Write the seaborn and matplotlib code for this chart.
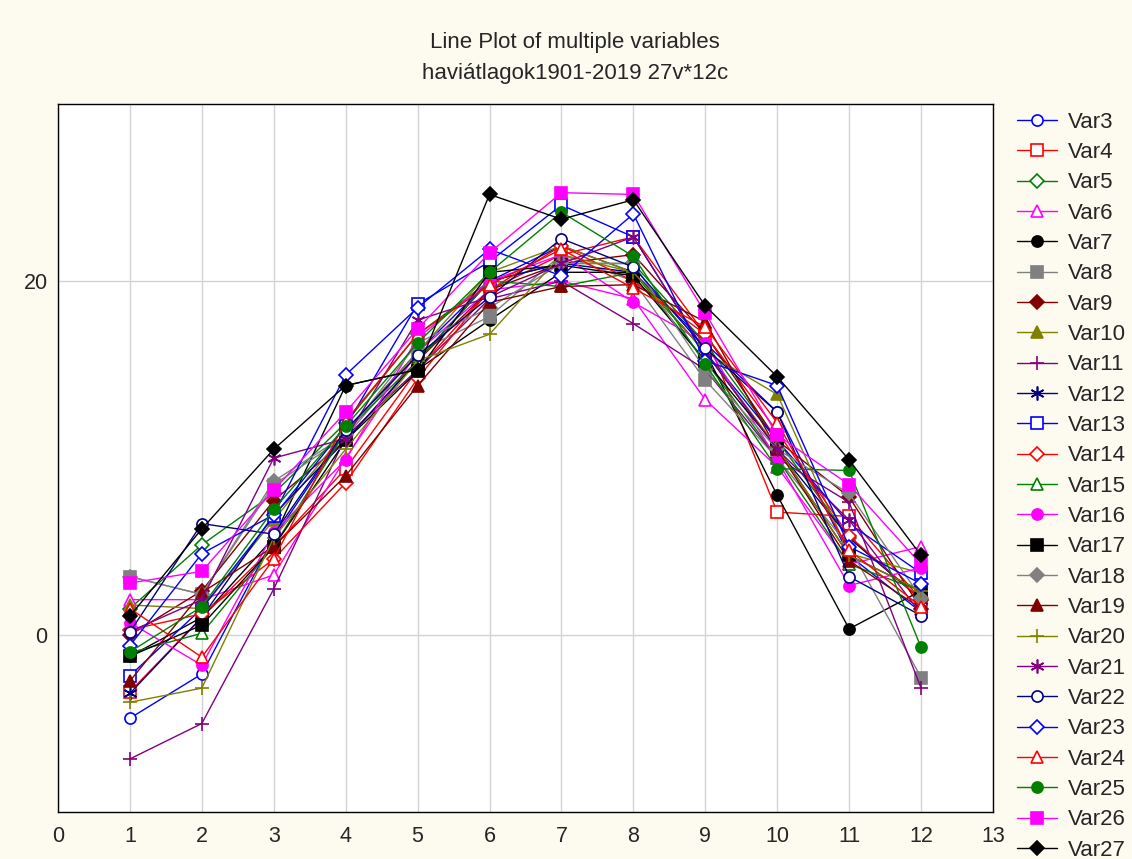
import numpy as np
import pandas as pd
import seaborn as sns
import matplotlib.pyplot as plt

# Monthly means, 12 months, one list per variable
months = list(range(1, 13))
var3 = [-4.7, -2.2, 5.5, 11.5, 16.0, 20.0, 22.0, 20.5, 16.5, 12.6, 4.5, 1.3]
var4 = [-3.2, 1.0, 5.0, 9.4, 15.0, 19.5, 21.5, 22.5, 17.0, 6.95, 6.7, 2.0]
var5 = [1.5, 5.1, 8.0, 12.0, 17.0, 20.0, 21.0, 21.0, 16.5, 11.0, 5.5, 2.0]
var6 = [2.0, 2.0, 3.4, 10.0, 16.0, 19.5, 20.0, 19.0, 13.3, 9.5, 4.0, 5.0]
var7 = [-1.2, 1.0, 5.5, 14.1, 15.0, 17.8, 20.5, 20.5, 16.0, 7.9, 0.35, 2.5]
var8 = [3.3, 2.3, 8.5, 11.2, 16.0, 18.0, 21.5, 20.0, 14.4, 10.0, 5.0, -2.4]
var9 = [0.0, 2.5, 7.6, 11.0, 15.5, 19.5, 21.0, 21.5, 17.0, 11.0, 7.8, 1.5]
var10 = [1.7, 1.5, 6.5, 11.5, 16.0, 20.5, 22.0, 20.5, 16.0, 13.6, 4.6, 3.5]
var11 = [-7.0, -5.0, 2.6, 11.2, 15.0, 19.0, 20.0, 17.6, 15.0, 10.0, 7.5, -3.0]
var12 = [-3.3, 1.0, 6.8, 11.0, 15.5, 20.0, 21.0, 20.5, 16.0, 10.5, 5.5, 2.0]
var13 = [-2.3, 1.5, 6.7, 11.8, 18.7, 21.1, 24.3, 22.5, 16.0, 11.0, 6.3, 3.5]
var14 = [0.3, 1.2, 4.3, 8.6, 14.5, 19.5, 22.0, 20.0, 17.0, 11.5, 5.6, 2.0]
var15 = [-1.0, 0.1, 5.0, 11.5, 15.5, 20.0, 19.7, 20.5, 15.5, 10.0, 4.0, 2.5]
var16 = [0.7, -1.7, 5.8, 9.9, 16.8, 20.0, 21.5, 18.8, 16.5, 9.9, 2.8, 3.8]
var17 = [-1.2, 0.56, 5.0, 11.0, 14.9, 20.5, 20.9, 20.3, 15.5, 10.6, 4.5, 2.5]
var18 = [3.3, 2.3, 8.7, 11.3, 16.5, 18.5, 21.0, 21.0, 15.0, 10.5, 8.0, 2.1]
var19 = [-2.6, 2.4, 5.0, 9.0, 14.1, 18.8, 19.7, 19.8, 17.7, 10.5, 4.2, 1.5]
var20 = [-3.8, -3.0, 5.5, 10.5, 15.5, 17.0, 21.5, 20.5, 16.0, 10.6, 4.5, 2.5]
var21 = [0.2, 2.0, 10.0, 11.1, 17.8, 19.1, 21.0, 22.5, 16.0, 10.5, 6.5, 1.2]
var22 = [0.17, 6.3, 5.7, 11.6, 15.8, 19.1, 22.4, 20.8, 16.2, 12.6, 3.3, 1.1]
var23 = [-0.6, 4.6, 6.8, 14.7, 18.5, 21.8, 20.3, 23.8, 15.5, 14.1, 5.0, 2.9]
var24 = [1.5, -1.25, 4.3, 12.1, 17.0, 19.8, 21.8, 19.6, 17.4, 12.0, 4.8, 1.6]
var25 = [-0.95, 1.6, 7.1, 11.8, 16.5, 20.5, 23.9, 21.4, 15.3, 9.4, 9.3, -0.7]
var26 = [2.94, 3.6, 8.2, 12.6, 17.3, 21.6, 25.0, 24.9, 18.2, 11.3, 8.5, 4.0]
var27 = [1.07, 6.0, 10.5, 14.1, 15.0, 24.9, 23.5, 24.6, 18.6, 14.6, 9.9, 4.5]

series = {
    'Var3': var3, 'Var4': var4, 'Var5': var5, 'Var6': var6, 'Var7': var7,
    'Var8': var8, 'Var9': var9, 'Var10': var10, 'Var11': var11, 'Var12': var12,
    'Var13': var13, 'Var14': var14, 'Var15': var15, 'Var16': var16, 'Var17': var17,
    'Var18': var18, 'Var19': var19, 'Var20': var20, 'Var21': var21, 'Var22': var22,
    'Var23': var23, 'Var24': var24, 'Var25': var25, 'Var26': var26, 'Var27': var27,
}

# colour, marker, open/filled for each variable
asterisk = (6, 2, 0)
styles = {
    'Var3': ('#0000FF', 'o', True), 'Var4': ('#FF0000', 's', True),
    'Var5': ('#008000', 'D', True), 'Var6': ('#FF00FF', '^', True),
    'Var7': ('#000000', 'o', False), 'Var8': ('#808080', 's', False),
    'Var9': ('#800000', 'D', False), 'Var10': ('#808000', '^', False),
    'Var11': ('#800080', '+', False), 'Var12': ('#000080', asterisk, False),
    'Var13': ('#0000FF', 's', True), 'Var14': ('#FF0000', 'D', True),
    'Var15': ('#008000', '^', True), 'Var16': ('#FF00FF', 'o', False),
    'Var17': ('#000000', 's', False), 'Var18': ('#808080', 'D', False),
    'Var19': ('#800000', '^', False), 'Var20': ('#808000', '+', False),
    'Var21': ('#800080', asterisk, False), 'Var22': ('#000080', 'o', True),
    'Var23': ('#0000FF', 'D', True), 'Var24': ('#FF0000', '^', True),
    'Var25': ('#008000', 'o', False), 'Var26': ('#FF00FF', 's', False),
    'Var27': ('#000000', 'D', False),
}

sns.set_style('white')
plt.rcParams['font.family'] = ['Liberation Sans', 'DejaVu Sans']

fig = plt.figure(figsize=(11.32, 8.59), dpi=100, facecolor='#FDFAF0')
ax = fig.add_axes([0.0512, 0.0547, 0.826, 0.824])
ax.set_facecolor('white')

for name, vals in series.items():
    color, marker, hollow = styles[name]
    size = 7 if marker == 'D' else 8
    if marker in ('+', asterisk):
        size = 10
    sns.lineplot(x=months, y=vals, ax=ax, color=color, marker=marker,
                 markersize=size, linewidth=1.0, label=name,
                 markerfacecolor='white' if hollow else color,
                 markeredgecolor=color, markeredgewidth=1.2)

ax.set_xlim(0, 13)
ax.set_ylim(-10, 30)
ax.set_xticks(range(0, 14))
ax.set_yticks([0, 20])
ax.grid(True, color='#D3D3D3', linewidth=1.0)
ax.set_axisbelow(True)
for sp in ax.spines.values():
    sp.set_color('black')
    sp.set_linewidth(1.0)
ax.tick_params(axis='both', labelsize=15.5, length=4, color='black', direction='out')
ax.tick_params(axis='x', pad=6)
ax.set_xlabel('')
ax.set_ylabel('')

fig.text(0.508, 0.950, 'Line Plot of multiple variables', ha='center', va='center', fontsize=16)
fig.text(0.508, 0.915, 'haviátlagok1901-2019 27v*12c', ha='center', va='center', fontsize=16)

handles, labels = ax.get_legend_handles_labels()
ax.legend_.remove()
fig.legend(handles, labels, loc='upper left', bbox_to_anchor=(0.898, 0.870),
           frameon=False, fontsize=16, labelspacing=0.42, handlelength=1.8,
           handletextpad=0.5, borderaxespad=0, borderpad=0)

fig.savefig('out.png', dpi=100, facecolor=fig.get_facecolor())
